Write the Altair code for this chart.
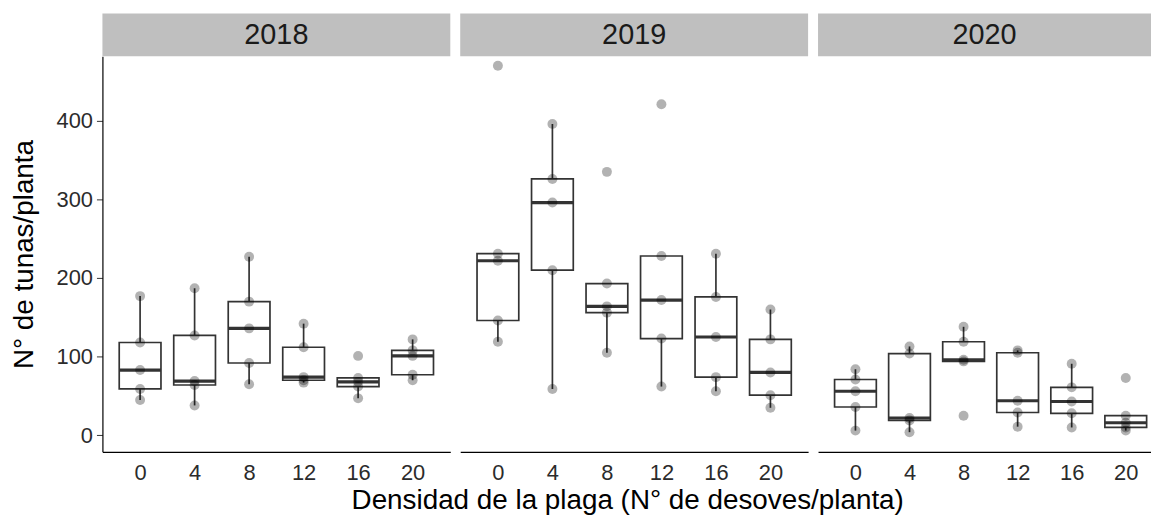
import altair as alt
import numpy as np
import pandas as pd

years = ["2018", "2019", "2020"]
densities = [0, 4, 8, 12, 16, 20]

# N° de tunas/planta, five plants per density level (order: 0, 4, 8, 12, 16, 20)
tunas_2018 = [
    [177, 118, 83, 59, 45],
    [187, 127, 69, 64, 38],
    [227, 170, 136, 92, 65],
    [142, 112, 74, 70, 67],
    [101, 73, 68, 62, 47],
    [122, 108, 101, 77, 70],
]
tunas_2019 = [
    [470, 231, 222, 146, 119],
    [396, 326, 296, 210, 59],
    [335, 193, 164, 156, 105],
    [421, 228, 172, 123, 62],
    [231, 176, 125, 74, 56],
    [160, 122, 80, 51, 35],
]
tunas_2020 = [
    [84, 71, 56, 36, 6],
    [113, 104, 22, 19, 4],
    [138, 119, 96, 94, 25],
    [108, 105, 44, 29, 11],
    [91, 61, 43, 28, 10],
    [73, 25, 16, 10, 6],
]

y_title = "N° de tunas/planta"
x_title = "Densidad de la plaga (N° de desoves/planta)"

all_values = {"2018": tunas_2018, "2019": tunas_2019, "2020": tunas_2020}

rows = []
stat_rows = []
for yr in years:
    for d, vals in zip(densities, all_values[yr]):
        arr = np.array(vals, dtype=float)
        for v in vals:
            rows.append({"year": yr, "density": d, "value": v})
        q1, med, q3 = np.percentile(arr, [25, 50, 75])
        iqr = q3 - q1
        lo = arr[arr >= q1 - 1.5 * iqr].min()
        hi = arr[arr <= q3 + 1.5 * iqr].max()
        stat_rows.append({"year": yr, "density": d, "q1": q1, "med": med,
                          "q3": q3, "lo": lo, "hi": hi})
points = pd.DataFrame(rows)
stats = pd.DataFrame(stat_rows)

FONT = "Liberation Sans"
BOX_W = 42
STRIP_H = 43
PLOT_H = 398


def panel(year, width, xmax, first, middle):
    pts = points[points.year == year]
    st = stats[stats.year == year]
    xs = alt.Scale(domain=[-2.4, xmax], nice=False, zero=False)
    ys = alt.Scale(domain=[-21, 482], nice=False, zero=False)
    if middle:
        xaxis = alt.Axis(values=densities, format="d", grid=False, ticks=False, tickSize=0,
                         labelFontSize=22, labelPadding=11, labelColor="#2b2b2b",
                         domainColor="black", domainWidth=1.2,
                         title=x_title, titleFontSize=28, titleFontWeight="normal",
                         titleColor="black", titleX=168, titleY=57,
                         titleBaseline="alphabetic")
    else:
        xaxis = alt.Axis(values=densities, format="d", grid=False, ticks=False, tickSize=0,
                         labelFontSize=22, labelPadding=11, labelColor="#2b2b2b",
                         domainColor="black", domainWidth=1.2, title=None)
    if first:
        yaxis = alt.Axis(values=[0, 100, 200, 300, 400], grid=False, tickSize=6,
                         tickColor="#333333", labelFontSize=22, labelPadding=4,
                         labelColor="#2b2b2b", domainColor="black", domainWidth=1.2,
                         title=y_title, titleFontSize=28, titleFontWeight="normal",
                         titleColor="black", titleX=-78, titleBaseline="middle")
    else:
        yaxis = None

    def xenc():
        return alt.X("density:Q", scale=xs, axis=xaxis)

    def yenc(field):
        return alt.Y(field + ":Q", scale=ys, axis=yaxis)

    whisk = alt.Chart(st).mark_rule(color="#333333", strokeWidth=1.7).encode(
        x=xenc(), y=yenc("lo"), y2="hi:Q")
    box = alt.Chart(st).mark_bar(size=BOX_W, fill="white", stroke="#333333",
                                 strokeWidth=1.7).encode(
        x=xenc(), y=yenc("q1"), y2="q3:Q")
    med = alt.Chart(st).mark_tick(orient="horizontal", size=BOX_W, thickness=3.2,
                                  color="#333333", opacity=1).encode(
        x=xenc(), y=yenc("med"))
    dots = alt.Chart(pts).mark_circle(size=100, color="black", opacity=0.3).encode(
        x=xenc(), y=yenc("value"))

    one = pd.DataFrame({"k": [0]})
    strip = alt.Chart(one).mark_rect(color="#BFBFBF").encode(
        x=alt.value(0), x2=alt.value(width),
        y=alt.value(-STRIP_H), y2=alt.value(0))
    strip_txt = alt.Chart(one).mark_text(fontSize=29, color="#1A1A1A",
                                         align="center", baseline="middle").encode(
        x=alt.value(width / 2), y=alt.value(-STRIP_H / 2 + 0.5), text=alt.value(year))

    return alt.layer(strip, strip_txt, whisk, box, med, dots).properties(
        width=width, height=PLOT_H)


p1 = panel("2018", 350, 22.4, True, False)
p2 = panel("2019", 350, 22.4, False, True)
p3 = panel("2020", 335, 21.5, False, False)

chart = alt.hconcat(p1, p2, p3, spacing=10, bounds="flush").resolve_scale(
    x="independent", y="independent"
).properties(
    padding={"left": 3, "top": 4, "right": 0, "bottom": 0},
    background="white",
).configure(font=FONT).configure_view(stroke=None)

chart.save("out.html", embed_options={"renderer": "svg", "actions": False})
